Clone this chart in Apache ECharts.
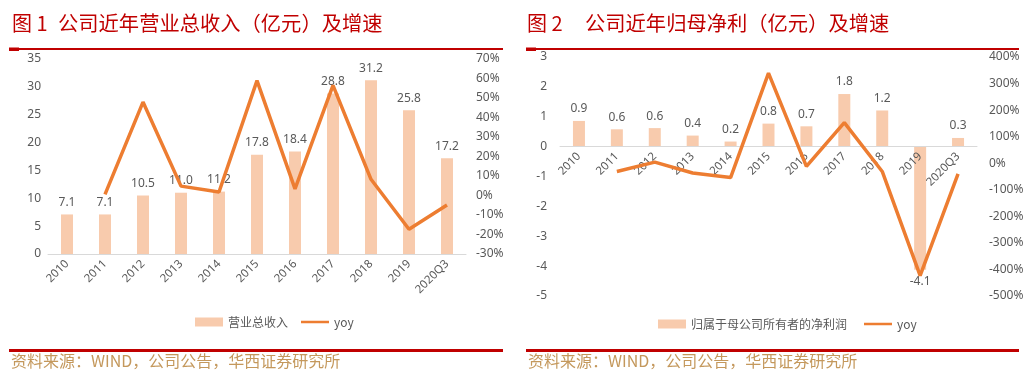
<!DOCTYPE html>
<html><head><meta charset="utf-8">
<script src="https://cdn.jsdelivr.net/npm/echarts@6/dist/echarts.min.js"></script>
<style>html,body{margin:0;padding:0;background:#fff}#c{width:1028px;height:373px}</style>
</head><body><div id="c"></div>
<script>
const categories = ['2010','2011','2012','2013','2014','2015','2016','2017','2018','2019','2020Q3'];
const revenue = [7.1, 7.1, 10.5, 11.0, 11.2, 17.8, 18.4, 28.8, 31.2, 25.8, 17.2];
const revenueYoy = [null, 0.6, 47.9, 4.8, 1.8, 58.9, 3.4, 56.5, 8.3, -17.3, -4.9];
const netProfit = [0.86, 0.58, 0.62, 0.37, 0.17, 0.77, 0.68, 1.76, 1.21, -4.12, 0.29];
const netProfitYoy = [null, -31, 4, -37, -54, 339, -12, 153, -31, -423, -40];
const title1Head = '图 1', title1 = '公司近年营业总收入（亿元）及增速';
const title2Head = '图 2', title2 = '公司近年归母净利（亿元）及增速';
const sourceText = '资料来源：WIND，公司公告，华西证券研究所';
const legend1 = ['营业总收入', 'yoy'];
const legend2 = ['归属于母公司所有者的净利润', 'yoy '];

const GRAY = '#595959', BAR = '#F8CBAD', LINE = '#ED7D31', RED = '#C00000', SRC = '#C4985C';
const FONT = '"Noto Sans", "Noto Sans CJK SC", sans-serif';
const CJK = '"Noto Sans CJK SC", sans-serif';
const LINE_ICON = 'path://M0,0 L0.01,0 L0,0.01 Z M0,3.2 L28,3.2 L28,5.8 L0,5.8 Z M0,9 L0.01,9 L0,8.99 Z';

const chart = echarts.init(document.getElementById('c'), null, {renderer: 'canvas'});
const axisLab = {color: GRAY, fontSize: 12, fontFamily: FONT};
function catAxis(gi, offset) {
  return {type: 'category', gridIndex: gi, data: categories, position: 'bottom', offset: offset, z: 3,
    axisLine: {lineStyle: {color: '#D9D9D9', width: 1}, onZero: false},
    axisTick: {show: false},
    axisLabel: {interval: 0, rotate: 45, color: GRAY, fontSize: 11.5, fontFamily: FONT, margin: 8}};
}
function valAxis(gi, pos, min, max, interval, fmt, margin) {
  return {type: 'value', gridIndex: gi, position: pos, min: min, max: max, interval: interval,
    splitLine: {show: false}, axisLine: {show: false}, axisTick: {show: false},
    axisLabel: Object.assign({}, axisLab, {margin: margin, formatter: fmt})};
}
const dataLabel = {show: true, position: 'top', color: GRAY, fontSize: 12, fontFamily: FONT, distance: 6,
  formatter: p => p.value.toFixed(1)};
function barData(arr) {
  return arr.map(v => v < 0 ? {value: v, label: {position: 'bottom'}} : v);
}
function redRules(x0, x1) {
  return [
    {type: 'rect', shape: {x: x0, y: 48, width: x1 - x0, height: 2}, style: {fill: RED}},
    {type: 'rect', shape: {x: x0, y: 47.5, width: 10, height: 3.5}, style: {fill: RED}},
    {type: 'rect', shape: {x: x0, y: 349, width: x1 - x0, height: 3}, style: {fill: RED}}
  ];
}
function txt(x, y, s, size, color, font) {
  return {type: 'text', x: x, y: y, style: {text: s, fill: color, font: size + 'px ' + font, textVerticalAlign: 'middle'}};
}
function legendCfg(names, left, top, gap) {
  return {left: left, top: top, itemWidth: 28, itemHeight: 9, itemGap: gap,
    data: [{name: names[0], icon: 'rect'}, {name: names[1], icon: LINE_ICON}],
    textStyle: {color: GRAY, fontSize: 12, fontFamily: CJK}};
}

// zero of chart-2 left axis: top 57 + 3/8 * 239
const zeroOffset2 = (57 + 239 * 3 / 8) - (57 + 239);

chart.setOption({
  animation: false,
  textStyle: {fontFamily: FONT},
  grid: [
    {left: 48, top: 59, width: 418, height: 195, containLabel: false},
    {left: 560, top: 57, width: 417, height: 239, containLabel: false}
  ],
  xAxis: [catAxis(0, 0), catAxis(1, zeroOffset2)],
  yAxis: [
    valAxis(0, 'left', 0, 35, 5, v => v, 7),
    valAxis(0, 'right', -30, 70, 10, v => v + '%', 10),
    valAxis(1, 'left', -5, 3, 1, v => v, 13),
    valAxis(1, 'right', -500, 400, 100, v => v + '%', 12)
  ],
  legend: [legendCfg(legend1, 190, 311, 13), legendCfg(legend2, 653, 313, 17)],
  series: [
    {name: legend1[0], type: 'bar', xAxisIndex: 0, yAxisIndex: 0, data: barData(revenue), barWidth: 12,
      itemStyle: {color: BAR}, label: dataLabel},
    {name: legend1[1], type: 'line', xAxisIndex: 0, yAxisIndex: 1, data: revenueYoy, symbol: 'none',
      lineStyle: {color: LINE, width: 3.5}, itemStyle: {color: LINE}, z: 5},
    {name: legend2[0], type: 'bar', xAxisIndex: 1, yAxisIndex: 2, data: barData(netProfit), barWidth: 12,
      itemStyle: {color: BAR}, label: dataLabel},
    {name: legend2[1], type: 'line', xAxisIndex: 1, yAxisIndex: 3, data: netProfitYoy, symbol: 'none',
      lineStyle: {color: LINE, width: 3.5}, itemStyle: {color: LINE}, z: 5}
  ],
  graphic: [].concat(
    redRules(9, 503), redRules(526, 1019),
    [txt(12, 23, title1Head, 20, RED, CJK), txt(58, 23, title1, 20.3, RED, CJK),
     txt(527, 23, title2Head, 20, RED, CJK), txt(585, 23, title2, 20.3, RED, CJK),
     txt(11, 361, sourceText, 16, SRC, CJK), txt(528, 361, sourceText, 16, SRC, CJK)]
  )
});
</script></body></html>
